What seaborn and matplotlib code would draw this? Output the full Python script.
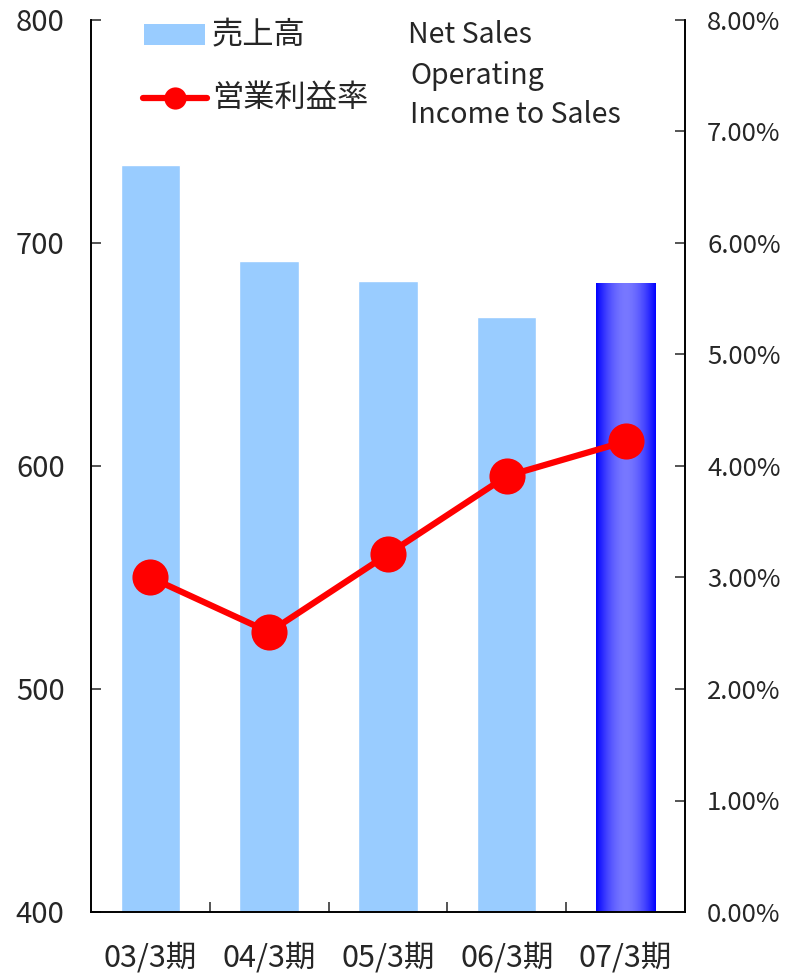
import numpy as np
import matplotlib
matplotlib.use('Agg')
import matplotlib.pyplot as plt
from matplotlib.patches import Rectangle
from matplotlib.lines import Line2D
from matplotlib.ticker import FuncFormatter
import seaborn as sns

periods = ['03/3期', '04/3期', '05/3期', '06/3期', '07/3期']
net_sales = [735, 692, 683, 667, 682]
op_margin = [3.00, 2.51, 3.21, 3.91, 4.22]

sns.set_style('white')
plt.rcParams['font.family'] = ['Noto Sans CJK JP', 'DejaVu Sans']

W, H = 795, 973
fig = plt.figure(figsize=(W / 100, H / 100), dpi=100)
ax = fig.add_axes([91 / W, 1 - 912 / H, (685 - 91) / W, (912 - 20) / H])

# 売上高 bars
sns.barplot(x=periods, y=net_sales, color='#99CCFF', width=0.5,
            saturation=1, ax=ax)

# last bar: horizontal gradient blue -> light -> blue
last = ax.patches[-1]
last.set_facecolor('none')
last.set_edgecolor('none')
x0, w = last.get_x(), last.get_width()
t = np.linspace(0, 1, 200)
light = np.clip(1 - np.abs(2 * t - 1) ** 1.8, 0, 1) * 0.47
grad = np.zeros((1, len(t), 3))
grad[0, :, 0] = light
grad[0, :, 1] = light
grad[0, :, 2] = 1.0
im = ax.imshow(grad, extent=[x0, x0 + w, 400, net_sales[-1]],
               aspect='auto', zorder=2, interpolation='bilinear')
im.set_clip_path(last)
ax.set_ylim(400, 800)
ax.set_xlim(-0.5, 4.5)

ax.set_xlabel('')
ax.set_ylabel('')
ax.set_yticks([400, 500, 600, 700, 800])
ax.tick_params(axis='y', direction='in', length=7, width=1.1,
               pad=19, labelsize=21, left=True)
ax.set_xticks(range(len(periods)))
ax.set_xticklabels(periods)
ax.tick_params(axis='x', which='major', length=0, pad=22, labelsize=22)
ax.set_xticks([0.5, 1.5, 2.5, 3.5], minor=True)
ax.tick_params(axis='x', which='minor', direction='in', length=7,
               width=1.1, bottom=True)
for side in ['left', 'right', 'bottom']:
    ax.spines[side].set_color('black')
    ax.spines[side].set_linewidth(1.2)
ax.spines['top'].set_visible(False)

# 営業利益率 line
ax2 = ax.twinx()
sns.lineplot(x=periods, y=op_margin, ax=ax2, color='#FF0000', lw=4.5,
             marker='o', markersize=26, markeredgewidth=0)
ax2.set_ylim(0, 8)
ax2.set_yticks(range(0, 9))
ax2.yaxis.set_major_formatter(FuncFormatter(lambda v, p: f'{v:.2f}%'))
ax2.tick_params(axis='y', direction='in', length=7, width=1.1,
                pad=16, labelsize=18.5)
ax2.set_ylabel('')
for side in ['left', 'right', 'bottom']:
    ax2.spines[side].set_color('black')
    ax2.spines[side].set_linewidth(1.2)
ax2.spines['top'].set_visible(False)


def fx(px):
    return px / W


def fy(py):
    return 1 - py / H


# legend drawn by hand
fig.patches.append(Rectangle((fx(144), fy(45)), fx(205) - fx(144),
                             fy(24) - fy(45), transform=fig.transFigure,
                             facecolor='#99CCFF', edgecolor='none'))
fig.lines.append(Line2D([fx(143), fx(207)], [fy(98), fy(98)],
                        transform=fig.transFigure, color='#FF0000', lw=4.5))
fig.lines.append(Line2D([fx(175)], [fy(98)], transform=fig.transFigure,
                        color='#FF0000', marker='o', markersize=16,
                        markeredgewidth=0))
fig.text(fx(212), fy(35), '売上高', fontsize=22.5, va='center', ha='left')
fig.text(fx(212), fy(98), '営業利益率', fontsize=22.5, va='center', ha='left')
fig.text(fx(408), fy(35), 'Net Sales', fontsize=20.5, va='center', ha='left')
fig.text(fx(410), fy(76), 'Operating', fontsize=20.5, va='center', ha='left')
fig.text(fx(410), fy(115), 'Income to Sales', fontsize=20.5, va='center',
         ha='left')

fig.savefig('out.png', dpi=100)
